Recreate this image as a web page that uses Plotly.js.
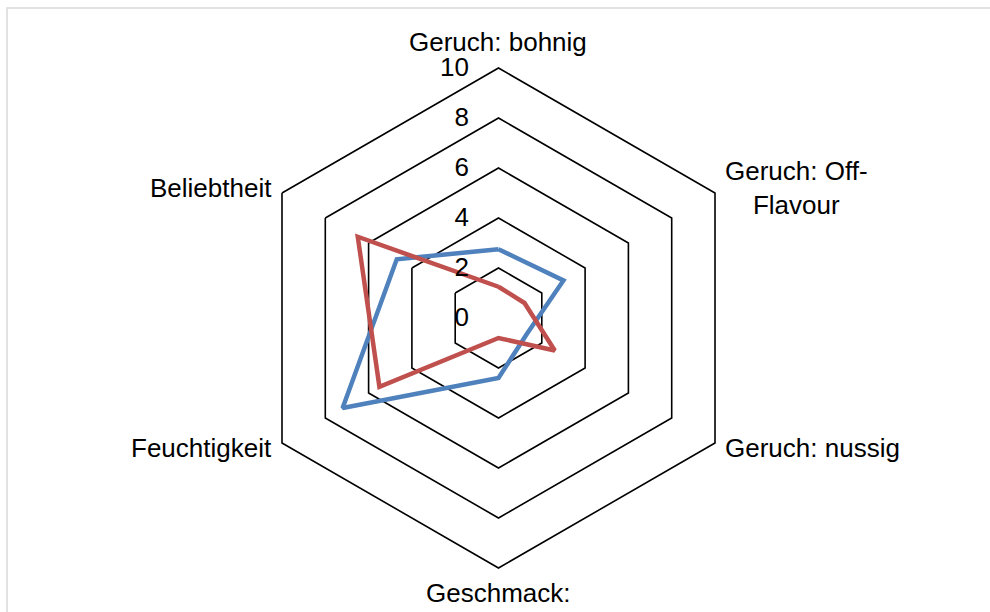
<!DOCTYPE html>
<html>
<head>
<meta charset="utf-8">
<script src="https://cdn.plot.ly/plotly-3.0.1.min.js"></script>
<style>
  html, body { margin: 0; padding: 0; background: #ffffff; }
  #chart { width: 990px; height: 612px; }
</style>
</head>
<body>
<div id="chart"></div>
<script>
// Categories (clockwise from top)
var categories = [
  "Geruch: bohnig",
  "Geruch: Off-<br>Flavour",
  "Geruch: nussig",
  "Geschmack:",
  "Feuchtigkeit",
  "Beliebtheit"
];

// Series values
var seriesBlue = [2.75, 3.0, 1.3, 2.4, 7.2, 4.7];
var seriesRed  = [1.25, 1.2, 2.6, 0.8, 5.5, 6.5];

// Radial tick values
var radialTicks = [0, 2, 4, 6, 8, 10];

function closed(arr) { return arr.concat([arr[0]]); }

var W = 990, H = 612;
var font = "Liberation Sans, Arial, Helvetica, sans-serif";
var fontSize = 26;

// polar geometry (pixels)
var cxPx = 498.5, cyPx = 318, Rpx = 250;
var domX = [(cxPx - Rpx) / W, (cxPx + Rpx) / W];
var domY = [(H - cyPx - Rpx) / H, (H - cyPx + Rpx) / H];

var traces = [
  {
    type: "scatterpolar",
    mode: "lines",
    r: closed(seriesBlue),
    theta: closed(categories),
    line: { color: "#4F81BD", width: 4.5 },
    hoverinfo: "skip"
  },
  {
    type: "scatterpolar",
    mode: "lines",
    r: closed(seriesRed),
    theta: closed(categories),
    line: { color: "#C0504D", width: 4.5 },
    hoverinfo: "skip"
  }
];

// Category labels placed just outside each outer vertex
var annotations = categories.map(function (label, i) {
  var ang = (90 - 360 / categories.length * i) * Math.PI / 180;
  var c = Math.cos(ang), s = Math.sin(ang);
  var vx = cxPx + Rpx * c, vy = cyPx - Rpx * s;
  var px, py, xa;
  if (Math.abs(c) < 0.01) {
    xa = "center"; px = vx; py = vy + (s > 0 ? -26 : 25);
  } else {
    xa = c > 0 ? "left" : "right";
    px = vx + (c > 0 ? 9 : -9);
    py = vy + (s > 0 ? -5 : 5);
  }
  return {
    text: label,
    xref: "paper", yref: "paper",
    x: px / W, y: 1 - py / H,
    xanchor: xa, yanchor: "middle",
    align: "center",
    showarrow: false,
    borderpad: 0,
    font: { family: font, size: fontSize, color: "#000000" }
  };
});

var layout = {
  width: W,
  height: H,
  margin: { l: 0, r: 0, t: 0, b: 0, pad: 0 },
  paper_bgcolor: "#ffffff",
  plot_bgcolor: "#ffffff",
  showlegend: false,
  font: { family: font, size: fontSize, color: "#000000" },
  polar: {
    domain: { x: domX, y: domY },
    bgcolor: "rgba(0,0,0,0)",
    gridshape: "linear",
    angularaxis: {
      type: "category",
      categoryorder: "array",
      categoryarray: categories,
      rotation: 90,
      direction: "clockwise",
      showgrid: false,
      showline: true,
      linecolor: "#000000",
      linewidth: 1.6,
      ticks: "",
      showticklabels: false
    },
    radialaxis: {
      range: [0, 10],
      tickmode: "array",
      tickvals: radialTicks,
      ticktext: radialTicks.map(String),
      angle: 90,
      side: "counterclockwise",
      tickangle: 90,
      showline: false,
      showgrid: true,
      gridcolor: "#000000",
      gridwidth: 1.6,
      ticks: "outside",
      ticklen: 20,
      tickcolor: "rgba(0,0,0,0)",
      tickfont: { family: font, size: fontSize, color: "#000000" }
    }
  },
  annotations: annotations,
  shapes: [
    {
      type: "rect",
      xref: "paper", yref: "paper",
      x0: 7 / W, x1: 1.02,
      y0: -0.02, y1: 1 - 8 / H,
      line: { color: "#d9d9d9", width: 1.5 },
      fillcolor: "rgba(0,0,0,0)",
      layer: "below"
    }
  ]
};

Plotly.newPlot("chart", traces, layout, { staticPlot: true, displayModeBar: false });
</script>
</body>
</html>
